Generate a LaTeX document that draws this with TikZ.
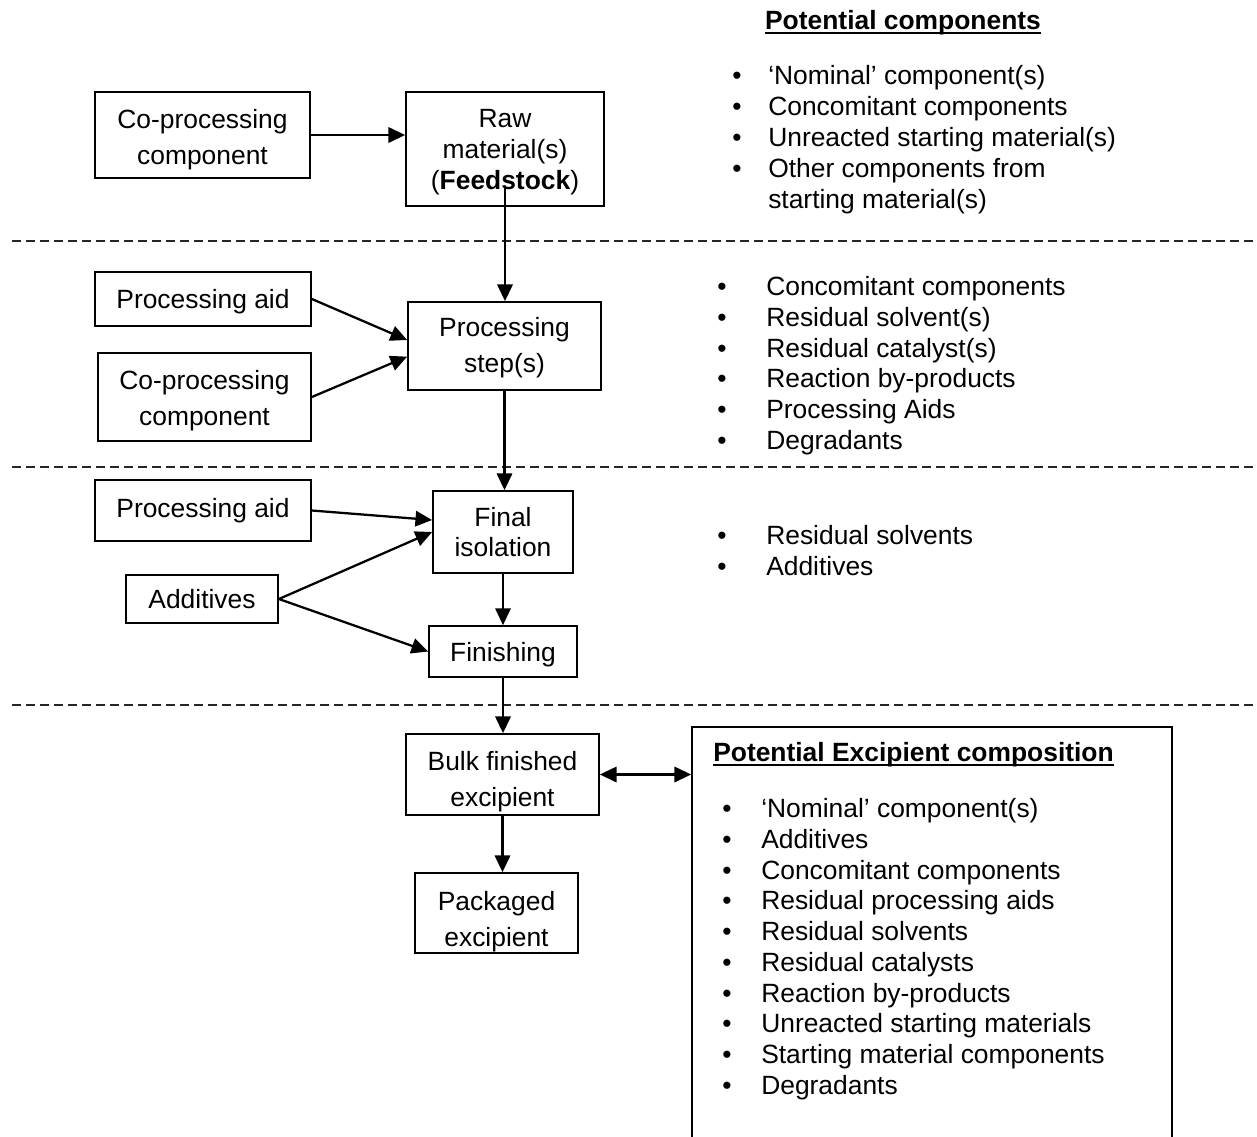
\documentclass[tikz,border=0pt]{standalone}
\usepackage{fontspec}
\setmainfont{Liberation Sans}
\usetikzlibrary{arrows.meta}

\newcommand\lift[1]{\rule{0pt}{#1}}

\tikzset{
  box/.style={draw, line width=1.3pt, align=center, inner sep=0pt,
    font=\fontsize{19.8pt}{27pt}\selectfont},
  arr/.style={line width=1.7pt, -{Triangle[length=12.5pt,width=11.5pt]}},
  arrboth/.style={line width=1.7pt, {Triangle[length=12.5pt,width=11.5pt]}-{Triangle[length=12.5pt,width=11.5pt]}},
  sep/.style={line width=1.1pt, dash pattern=on 6.5pt off 4pt, black!85},
  txt/.style={anchor=base west, inner sep=0pt, font=\fontsize{19.8pt}{23pt}\selectfont},
  bul/.style={anchor=base, inner sep=0pt, font=\fontsize{19.8pt}{23pt}\selectfont},
}

\begin{document}
\begin{tikzpicture}[x=0.75pt,y=-0.75pt]

  \useasboundingbox (0,0) rectangle (1257,1136);

  % stage separators
  \draw[sep] (12,241) -- (1257,241);
  \draw[sep] (12,467) -- (1257,467);
  \draw[sep] (12,705) -- (1257,705);

  % flow boxes
  \node[box, minimum width=161.25pt, minimum height=64.5pt] (cop1) at (202.5,135) {\lift{21.8pt}Co-processing\\component};
  \node[box, minimum width=148.5pt, minimum height=85.5pt, font=\fontsize{19.8pt}{23.25pt}\selectfont] (raw) at (505,149) {\lift{18.8pt}Raw\\material(s)\\(\textbf{Feedstock})};
  \node[box, minimum width=162pt, minimum height=40.5pt] (pa1) at (203,299) {\lift{18.8pt}Processing aid};
  \node[box, minimum width=159.75pt, minimum height=66pt] (cop2) at (204.5,397) {\lift{20.3pt}Co-processing\\component};
  \node[box, minimum width=144.75pt, minimum height=66pt] (proc) at (504.5,346) {\lift{16.5pt}Processing\\step(s)};
  \node[box, minimum width=162pt, minimum height=45.75pt] (pa2) at (203,510.5) {Processing aid};
  \node[box, minimum width=105pt, minimum height=61.5pt, font=\fontsize{19.8pt}{22.5pt}\selectfont] (final) at (503,532) {Final\\isolation};
  \node[box, minimum width=114pt, minimum height=36pt] (add) at (202,599) {Additives};
  \node[box, minimum width=111pt, minimum height=38.25pt] (fin) at (503,651.5) {\lift{18.8pt}Finishing};
  \node[box, minimum width=144.75pt, minimum height=60.75pt] (bulk) at (502.5,774.5) {\lift{24.8pt}Bulk finished\\excipient};
  \node[box, minimum width=122.25pt, minimum height=60pt] (pack) at (496.5,913) {\lift{27.8pt}Packaged\\excipient};
  \node[box, minimum width=360pt, minimum height=317.25pt] (comp) at (932,938.5) {};

  % connectors
  \draw[arr] (cop1.east) -- (cop1.east -| raw.west); %% cop -> raw
  \draw[arr] ([yshift=14pt]raw.south) -- (raw.south |- proc.north); %% raw -> proc
  \draw[arr] (pa1.east) -- ([yshift=4.5pt]proc.west); %% aid -> proc
  \draw[arr] (cop2.east) -- ([yshift=-8pt]proc.west); %% cop -> proc
  \draw[arr] (proc.south) -- (proc.south |- final.north); %% proc -> final
  \draw[arr] (pa2.east) -- ([yshift=9pt]final.west); %% aid -> final
  \draw[arr] (add.east) -- (final.west); %% add -> final
  \draw[arr] (add.east) -- (fin.west); %% add -> fin
  \draw[arr, line width=1.2pt] (final.south) -- (fin.north); %% final -> fin
  \draw[arr] (fin.south) -- (fin.south |- bulk.north); %% fin -> bulk
  \draw[arr] (bulk.south) -- (bulk.south |- pack.north); %% bulk -> pack
  \draw[arrboth] (bulk.east) -- (bulk.east -| comp.west); %% bulk <-> comp

  % potential components (top)
  \node[bul, font=\fontsize{19.8pt}{23pt}\selectfont\bfseries] (pctitle) at (903,29.5) {Potential components};
  \draw[line width=1.5pt] ([yshift=-2.5pt]pctitle.base west) -- ([yshift=-2.5pt]pctitle.base east);
  \foreach \lbl [count=\i] in {‘Nominal’ component(s), Concomitant components,
      Unreacted starting material(s), Other components from} {
    \node[bul] (pcb\i) at (737,84.5+31*\i-31) {\textbullet};
    \node[txt] (pc\i) at (768,84.5+31*\i-31) {\lbl};
  }
  \node[txt] (pc5) at (768,208.5) {starting material(s)};

  % processing step contents
  \foreach \lbl [count=\i] in {Concomitant components, Residual solvent(s),
      Residual catalyst(s), Reaction by-products, Processing Aids, Degradants} {
    \node[bul] (psb\i) at (722,295.5+30.8*\i-30.8) {\textbullet};
    \node[txt] (ps\i) at (766,295.5+30.8*\i-30.8) {\lbl};
  }

  % final isolation contents
  \foreach \lbl [count=\i] in {Residual solvents, Additives} {
    \node[bul] (fib\i) at (722,544.5+31*\i-31) {\textbullet};
    \node[txt] (fi\i) at (766,544.5+31*\i-31) {\lbl};
  }

  % potential excipient composition
  \node[txt, font=\fontsize{19.8pt}{23pt}\selectfont\bfseries] (ectitle) at (713,761.5) {Potential Excipient composition};
  \draw[line width=1.5pt] ([yshift=-2.5pt]ectitle.base west) -- ([yshift=-2.5pt]ectitle.base east);
  \foreach \lbl [count=\i] in {‘Nominal’ component(s), Additives, Concomitant components,
      Residual processing aids, Residual solvents, Residual catalysts, Reaction by-products,
      Unreacted starting materials, Starting material components, Degradants} {
    \node[bul] (ecb\i) at (727,817.5+30.78*\i-30.78) {\textbullet};
    \node[txt] (ec\i) at (761,817.5+30.78*\i-30.78) {\lbl};
  }

\end{tikzpicture}
\end{document}
